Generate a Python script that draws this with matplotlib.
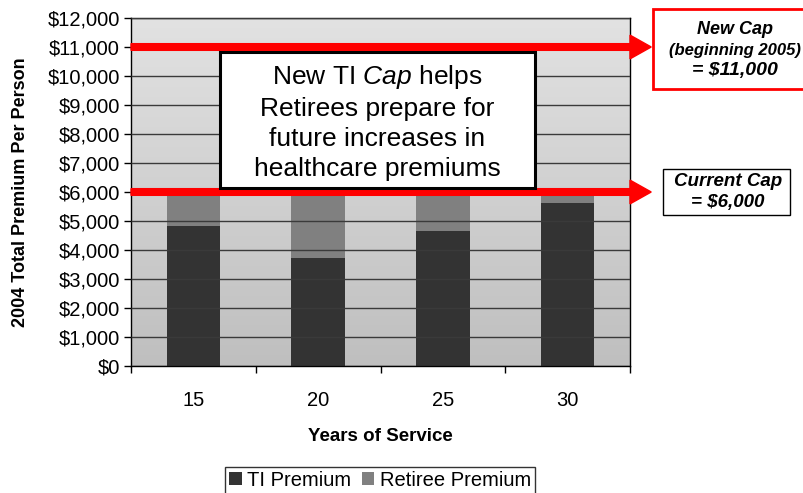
import numpy as np
import matplotlib
matplotlib.use("Agg")
import matplotlib.pyplot as plt
from matplotlib.patches import Rectangle, FancyArrow

plt.rcParams['font.family'] = ['Liberation Sans', 'DejaVu Sans']
plt.rcParams['mathtext.fontset'] = 'custom'
plt.rcParams['mathtext.rm'] = 'Liberation Sans'
plt.rcParams['mathtext.it'] = 'Liberation Sans:italic'

# Premium split by years of service (2004 dollars)
years = ["15", "20", "25", "30"]
ti_premium = [4830, 3720, 4660, 5620]
retiree_premium = [1170, 2280, 1340, 380]
current_cap = 6000
new_cap = 11000

fig = plt.figure(figsize=(8.04, 4.93), dpi=100)
ax = fig.add_axes([0.1630, 0.2576, 0.6206, 0.7059])

x = np.arange(len(years))
ax.set_xlim(-0.5, len(years) - 0.5)
ax.set_ylim(0, 12000)

# grey gradient plot area
bg = matplotlib.colors.LinearSegmentedColormap.from_list("bg", ["#bfbfbf", "#e2e2e2"])
ax.imshow(np.linspace(0, 1, 256).reshape(-1, 1), cmap=bg, origin="lower",
          aspect="auto", extent=[-0.5, len(years) - 0.5, 0, 12000], zorder=0)

ax.yaxis.grid(True, color="#3a3a3a", linewidth=1.0, zorder=1)
ax.set_axisbelow(False)

bw = 0.43
ax.bar(x, ti_premium, bw, color="#333333", label="TI Premium", zorder=2)
ax.bar(x, retiree_premium, bw, bottom=ti_premium, color="#808080",
       label="Retiree Premium", zorder=2)

ticks = np.arange(0, 12001, 1000)
ax.set_yticks(ticks)
ax.set_yticklabels([f"${v:,.0f}" for v in ticks])
ax.set_xticks(x)
ax.set_xticklabels(years)
ax.set_xticks(np.arange(-0.5, len(years), 1), minor=True)
ax.tick_params(axis="x", which="major", length=0, pad=18, labelsize=14.5)
ax.tick_params(axis="x", which="minor", length=5, width=1)
ax.tick_params(axis="y", length=5, width=1, labelsize=14.5, pad=3)
for s in ax.spines.values():
    s.set_linewidth(1.0)
    s.set_color("black")

ax.set_xlabel("Years of Service", fontsize=13.5, fontweight="bold")
ax.xaxis.set_label_coords(0.5, -0.178)
ax.set_ylabel("2004 Total Premium Per Person", fontsize=13, fontweight="bold")
ax.yaxis.set_label_coords(-0.205, 0.5)

# red cap arrows running past the right edge of the plot
for cap in (new_cap, current_cap):
    ax.add_patch(FancyArrow(-0.5, cap, 4.17, 0, width=230, head_width=820,
                            head_length=0.17, length_includes_head=True,
                            color="#ff0000", clip_on=False, zorder=4))

# message box
fig.patches.append(Rectangle((220 / 804, 1 - 188 / 493), 315 / 804, 136 / 493,
                             transform=fig.transFigure, facecolor="white",
                             edgecolor="black", linewidth=2.2, zorder=5))
fig.text(377.5 / 804, 1 - 122 / 493,
         "New TI $\\mathit{Cap}$ helps\nRetirees prepare for\nfuture increases in\nhealthcare premiums",
         ha="center", va="center", fontsize=19, linespacing=1.3, zorder=6)

# new cap callout
fig.patches.append(Rectangle((653 / 804, 1 - 89 / 493), 151 / 804, 80 / 493,
                             transform=fig.transFigure, facecolor="none",
                             edgecolor="#ff0000", linewidth=2))
fig.text(735 / 804, 1 - 30 / 493, "New Cap", ha="center", va="center",
         fontsize=13, fontweight="bold", style="italic")
fig.text(735 / 804, 1 - 50 / 493, "(beginning 2005)", ha="center", va="center",
         fontsize=12, fontweight="bold", style="italic")
fig.text(735 / 804, 1 - 71 / 493, "= $11,000", ha="center", va="center",
         fontsize=14, fontweight="bold", style="italic")

# current cap callout
fig.patches.append(Rectangle((663 / 804, 1 - 215 / 493), 127 / 804, 46 / 493,
                             transform=fig.transFigure, facecolor="none",
                             edgecolor="black", linewidth=1))
fig.text(728 / 804, 1 - 182 / 493, "Current Cap", ha="center", va="center",
         fontsize=13.5, fontweight="bold", style="italic")
fig.text(728 / 804, 1 - 203 / 493, "= $6,000", ha="center", va="center",
         fontsize=13.5, fontweight="bold", style="italic")

leg = fig.legend(loc="upper center", bbox_to_anchor=(380 / 804, 1 - 467 / 493),
                 ncol=2, frameon=True, fancybox=False, edgecolor="black",
                 fontsize=14.5, handlelength=0.62, handleheight=0.62,
                 handletextpad=0.26, columnspacing=0.55, borderpad=0.2,
                 borderaxespad=0)
leg.get_frame().set_linewidth(1)

fig.savefig("out.png", dpi=100)
